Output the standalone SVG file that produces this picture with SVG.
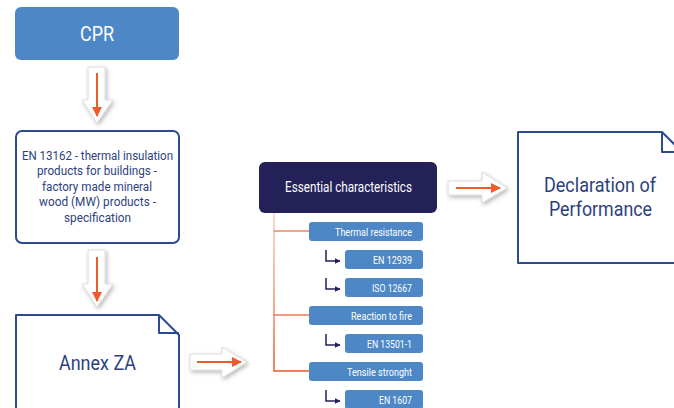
<svg xmlns="http://www.w3.org/2000/svg" width="674" height="408" viewBox="0 0 674 408">
  <defs>
    <style>
      .t { font-family: Roboto, "Liberation Sans", sans-serif; }
      .blue { fill: #4d87c6; }
      .doc { fill: #ffffff; stroke: #2c4a8e; stroke-width: 2; stroke-linejoin: round; }
      .fold { fill: none; stroke: #2c4a8e; stroke-width: 2; stroke-linejoin: round; }
      .navytxt { fill: #2d3f7e; }
      .wtxt { fill: #ffffff; }
      .small { font-size: 11px; text-anchor: end; }
      .hollow { fill: #ffffff; stroke: #dcdcdc; stroke-width: 1; filter: url(#shadow); }
      .flow { stroke: #ef5a2a; stroke-width: 2; fill: none; }
      .sub { stroke: #232157; stroke-width: 1.5; fill: none; marker-end: url(#subhead); }
    </style>
    <filter id="shadow" x="-40%" y="-40%" width="180%" height="180%">
      <feDropShadow dx="1.5" dy="2" stdDeviation="2" flood-color="#000000" flood-opacity="0.28"/>
    </filter>
    <marker id="flowhead" viewBox="0 0 10 10" refX="9" refY="5" markerWidth="5" markerHeight="5" orient="auto" markerUnits="strokeWidth">
      <path d="M0,0 L10,5 L0,10 Z" fill="#ef5a2a"/>
    </marker>
    <marker id="subhead" viewBox="0 0 10 10" refX="9" refY="5" markerWidth="4" markerHeight="4" orient="auto" markerUnits="strokeWidth">
      <path d="M0,0 L10,5 L0,10 Z" fill="#232157"/>
    </marker>
    <linearGradient id="trunk" gradientUnits="userSpaceOnUse" x1="0" y1="213" x2="0" y2="372">
      <stop offset="0" stop-color="#f7cdbd"/>
      <stop offset="0.5" stop-color="#f19a78"/>
      <stop offset="1" stop-color="#ee5527"/>
    </linearGradient>
  </defs>

  <g id="connectors">
    <!-- hollow block arrows with inner orange stroke -->
    <path class="hollow" d="M88,67 H105 V100 H113 L97,123 L82,100 H88 Z"/>
    <line class="flow" x1="97" y1="73" x2="97" y2="116" marker-end="url(#flowhead)"/>

    <path class="hollow" d="M88,250 H105 V284 H113 L97,307 L82,284 H88 Z"/>
    <line class="flow" x1="97" y1="257" x2="97" y2="301" marker-end="url(#flowhead)"/>

    <path class="hollow" d="M190,354 H222 V347 L247,362 L222,378 V370 H190 Z"/>
    <line class="flow" x1="197" y1="362" x2="241" y2="362" marker-end="url(#flowhead)"/>

    <path class="hollow" d="M448,181 H482 V172 L507,188 L482,203 V195 H448 Z"/>
    <line class="flow" x1="456" y1="188" x2="500" y2="188" marker-end="url(#flowhead)"/>

    <!-- characteristic tree -->
    <path d="M274,213 V371 H309" stroke="url(#trunk)" stroke-width="1.5" fill="none"/>
    <line x1="274" y1="231" x2="309" y2="231" stroke="#f08462" stroke-width="1.5"/>
    <line x1="274" y1="315" x2="309" y2="315" stroke="#ef7650" stroke-width="1.5"/>

    <!-- sub-standard pointers -->
    <path class="sub" d="M326,250 V261 H340"/>
    <path class="sub" d="M326,278 V289 H340"/>
    <path class="sub" d="M326,334 V345 H340"/>
    <path class="sub" d="M326,390 V401 H340"/>
  </g>

  <g id="cpr">
    <rect class="blue" x="15" y="7" width="164" height="53" rx="6"/>
    <text class="t wtxt" x="97" y="40.5" font-size="21" text-anchor="middle" textLength="34" lengthAdjust="spacingAndGlyphs">CPR</text>
  </g>

  <g id="en13162">
    <rect class="doc" x="16" y="131" width="163" height="112" rx="6"/>
    <g class="t navytxt" font-size="12.5" text-anchor="middle">
      <text x="97.5" y="159.5" textLength="151" lengthAdjust="spacingAndGlyphs">EN 13162 - thermal insulation</text>
      <text x="97" y="175" textLength="120" lengthAdjust="spacingAndGlyphs">products for buildings -</text>
      <text x="97" y="190.5" textLength="110" lengthAdjust="spacingAndGlyphs">factory made mineral</text>
      <text x="97.5" y="206" textLength="117" lengthAdjust="spacingAndGlyphs">wood (MW) products -</text>
      <text x="97.5" y="222" textLength="67" lengthAdjust="spacingAndGlyphs">specification</text>
    </g>
  </g>

  <g id="annex-za">
    <path class="doc" d="M16,412 V315 H159 L179,335 V412"/>
    <path class="fold" d="M159,315 V333 H179"/>
    <text class="t navytxt" x="97.5" y="369.5" font-size="21" text-anchor="middle" textLength="77" lengthAdjust="spacingAndGlyphs">Annex ZA</text>
  </g>

  <g id="essential-characteristics">
    <rect x="259" y="162" width="178" height="51" rx="6" fill="#232157"/>
    <text class="t wtxt" x="348.5" y="192" font-size="14" text-anchor="middle" textLength="127" lengthAdjust="spacingAndGlyphs">Essential characteristics</text>
  </g>

  <g id="thermal-resistance">
    <rect class="blue" x="309" y="222" width="114" height="19" rx="3"/>
    <text class="t wtxt small" x="412" y="235.5" textLength="77" lengthAdjust="spacingAndGlyphs">Thermal resistance</text>
  </g>
  <g id="en-12939">
    <rect class="blue" x="345" y="250" width="78" height="19" rx="3"/>
    <text class="t wtxt small" x="412" y="263.5" textLength="39" lengthAdjust="spacingAndGlyphs">EN 12939</text>
  </g>
  <g id="iso-12667">
    <rect class="blue" x="345" y="278" width="78" height="19" rx="3"/>
    <text class="t wtxt small" x="412" y="291.5" textLength="40" lengthAdjust="spacingAndGlyphs">ISO 12667</text>
  </g>
  <g id="reaction-to-fire">
    <rect class="blue" x="309" y="306" width="114" height="19" rx="3"/>
    <text class="t wtxt small" x="412" y="319.5" textLength="61" lengthAdjust="spacingAndGlyphs">Reaction to fire</text>
  </g>
  <g id="en-13501-1">
    <rect class="blue" x="345" y="334" width="78" height="19" rx="3"/>
    <text class="t wtxt small" x="412" y="347.5" textLength="45" lengthAdjust="spacingAndGlyphs">EN 13501-1</text>
  </g>
  <g id="tensile-strength">
    <rect class="blue" x="309" y="362" width="114" height="19" rx="3"/>
    <text class="t wtxt small" x="412" y="375.5" textLength="65" lengthAdjust="spacingAndGlyphs">Tensile stronght</text>
  </g>
  <g id="en-1607">
    <rect class="blue" x="345" y="390" width="78" height="19" rx="3"/>
    <text class="t wtxt small" x="412" y="403.5" textLength="33" lengthAdjust="spacingAndGlyphs">EN 1607</text>
  </g>

  <g id="declaration-of-performance">
    <path class="doc" d="M690,263 H518 V132 H662 L682,152"/>
    <path class="fold" d="M662,132 V152 H682"/>
    <g class="t navytxt" font-size="20" text-anchor="middle">
      <text x="600" y="192" textLength="112" lengthAdjust="spacingAndGlyphs">Declaration of</text>
      <text x="600.5" y="216" textLength="103" lengthAdjust="spacingAndGlyphs">Performance</text>
    </g>
  </g>
</svg>
